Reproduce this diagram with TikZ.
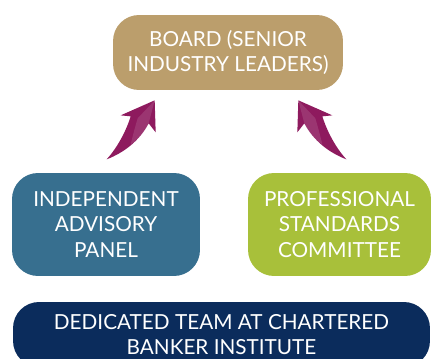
\documentclass[tikz,border=0pt]{standalone}
\usepackage{fontspec}
\setmainfont{Lato}
\usetikzlibrary{calc}

\definecolor{boardtan}{HTML}{BB9E6C}
\definecolor{panelblue}{HTML}{376F8F}
\definecolor{committeegreen}{HTML}{A8C03A}
\definecolor{teamnavy}{HTML}{0B2C5C}
\definecolor{swooshpurple}{HTML}{8E1A5E}

\tikzset{
    box/.style={rounded corners=0.52cm, text=white, align=center, inner sep=0pt,
      font=\fontsize{11.8}{14.4}\selectfont},
    swoosh/.pic={
      \fill[swooshpurple] (0,0) -- (1,32) -- (-6,23)
        .. controls (-15,40) and (-30,52) .. (-48,59)
        .. controls (-38,48) and (-29,32) .. (-24,16)
        -- (-34,15) -- cycle;
      \fill[white, opacity=0.12] (0,0) -- (-6,23)
        .. controls (-12,34) and (-18,40) .. (-24,44)
        .. controls (-22,36) and (-20,28) .. (-17,18) -- cycle;
    }
}

\begin{document}
\begin{tikzpicture}[x=0.02cm, y=-0.02cm]
    \useasboundingbox (0,0) rectangle (431,358);
    \clip (0,0) rectangle (431,358);

    \node[box, fill=boardtan, minimum width=4.6cm, minimum height=1.5cm]
      (board) at (228,52.5) {BOARD (SENIOR\\INDUSTRY LEADERS)};
    \node[box, fill=panelblue, minimum width=3.76cm, minimum height=2.06cm]
      (panel) at (106,224.5) {INDEPENDENT\\ADVISORY\\PANEL};
    \node[box, fill=committeegreen, minimum width=3.66cm, minimum height=2.06cm]
      (committee) at (339.5,224.5) {PROFESSIONAL\\STANDARDS\\COMMITTEE};
    \node[box, fill=teamnavy, minimum width=8.34cm, minimum height=1.3cm]
      (team) at (221.5,334.5) {DEDICATED TEAM AT CHARTERED\\BANKER INSTITUTE};

    % arrows up to the board
    \pic at ($(board.south west)+(42,10)$) {swoosh};
    \pic[xscale=-1] at ($(board.south east)+(-45,10)$) {swoosh};
\end{tikzpicture}
\end{document}
